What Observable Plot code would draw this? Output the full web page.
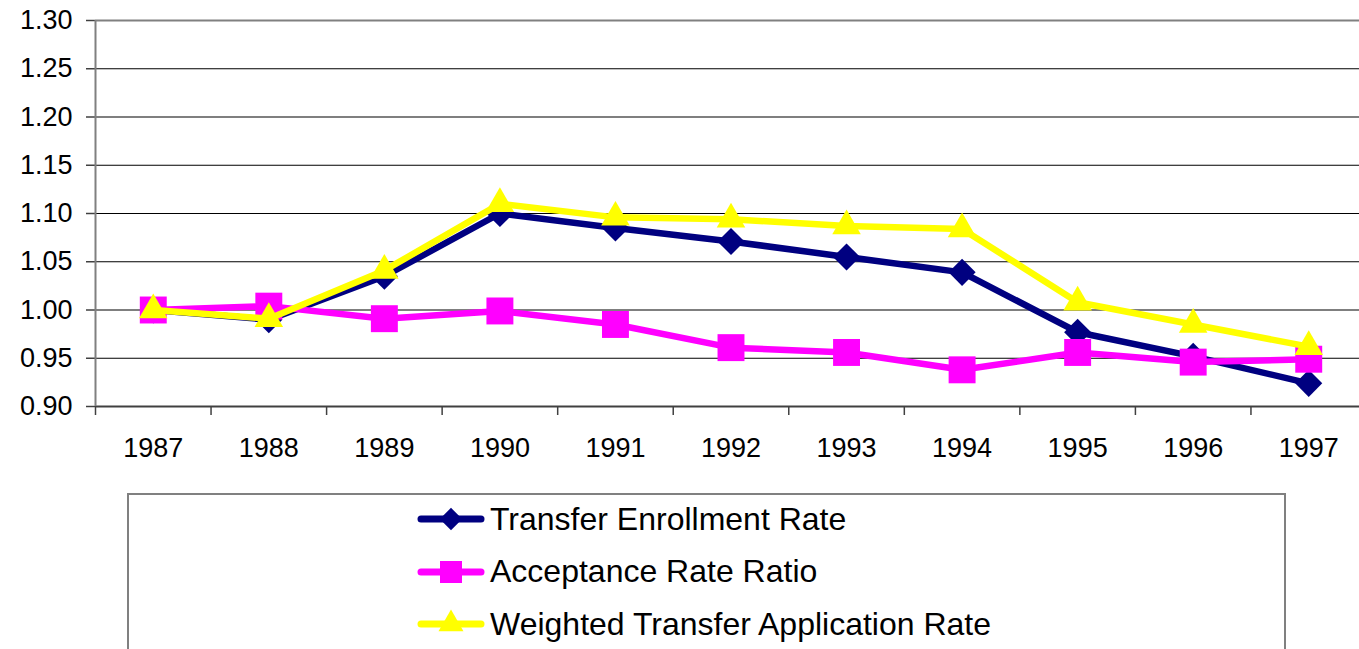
<!DOCTYPE html>
<html>
<head>
<meta charset="utf-8">
<script src="https://cdn.jsdelivr.net/npm/d3@7"></script>
<script src="https://cdn.jsdelivr.net/npm/@observablehq/plot@0.6"></script>
<style>
  html, body { margin: 0; padding: 0; background: #fff; overflow: hidden; }
  body { width: 1359px; height: 649px; position: relative; font-family: "Liberation Sans", Arial, sans-serif; }
  #legend { position: absolute; left: 127px; top: 493px; width: 1159px; height: 200px; box-sizing: border-box; border: 2px solid #808080; }
  #entries { position: absolute; left: 417px; top: 493px; }
  .row { display: flex; align-items: center; height: 52.5px; }
  .row span { font-size: 32px; margin-left: 3px; color: #000; }
</style>
</head>
<body>
<div id="chart"></div>
<div id="legend"></div>
<div id="entries"></div>
<script>
const years = ["1987","1988","1989","1990","1991","1992","1993","1994","1995","1996","1997"];
const transfer   = [1.000, 0.990, 1.035, 1.100, 1.085, 1.071, 1.055, 1.039, 0.977, 0.952, 0.924];
const acceptance = [1.000, 1.004, 0.991, 0.999, 0.985, 0.961, 0.956, 0.938, 0.956, 0.946, 0.949];
const weighted   = [1.000, 0.991, 1.041, 1.110, 1.096, 1.094, 1.087, 1.084, 1.008, 0.985, 0.962];
const yTicks = [0.90, 0.95, 1.00, 1.05, 1.10, 1.15, 1.20, 1.25, 1.30];
const seriesNames = ["Transfer Enrollment Rate", "Acceptance Rate Ratio", "Weighted Transfer Application Rate"];
const seriesColors = ["#000080", "#FF00FF", "#FFFF00"];
const seriesSymbols = ["diamond2", "square", "triangle"];
const seriesR = [12.2, 15.2, 10.6];
const seriesValues = [transfer, acceptance, weighted];

const xPos = (d, i) => i + 0.5;

const seriesMarks = seriesValues.flatMap((vals, k) => [
  Plot.lineY(vals, {x: xPos, y: d => d, stroke: seriesColors[k], strokeWidth: 6.5, strokeLinejoin: "round"}),
  Plot.dot(vals, {x: xPos, y: d => d, symbol: seriesSymbols[k], r: seriesR[k], fill: seriesColors[k], stroke: "none"})
]);

const chart = Plot.plot({
  width: 1359,
  height: 470,
  marginLeft: 95,
  marginRight: 0,
  marginTop: 20,
  marginBottom: 64,
  style: {fontFamily: "'Liberation Sans', Arial, sans-serif", fontSize: "27px", color: "#000", background: "#fff", overflow: "visible"},
  x: {domain: [0, years.length], range: [95, 1366]},
  y: {domain: [yTicks[0], yTicks[yTicks.length - 1]]},
  marks: [
    Plot.ruleY(yTicks.slice(1, -1), {stroke: "#000", strokeWidth: 1.2}),
    Plot.ruleY([yTicks[yTicks.length - 1]], {stroke: "#808080", strokeWidth: 2}),
    Plot.axisY(yTicks, {tickSize: 9, tickPadding: 14, tickFormat: d => d.toFixed(2), fontSize: 27, stroke: "#404040", strokeWidth: 1.5}),
    Plot.axisX(d3.range(0, years.length + 1), {tickSize: 9, tickFormat: () => "", stroke: "#404040", strokeWidth: 1.5}),
    Plot.axisX(years.map((_, i) => i + 0.5), {tickSize: 0, tickPadding: 31, tickFormat: d => years[Math.floor(d)], fontSize: 27}),
    ...seriesMarks,
    Plot.ruleY([yTicks[0]], {stroke: "#404040", strokeWidth: 2}),
    Plot.ruleX([0], {stroke: "#808080", strokeWidth: 2})
  ]
});
document.getElementById("chart").appendChild(chart);

// Legend
const entries = document.getElementById("entries");
seriesNames.forEach((name, k) => {
  const row = document.createElement("div");
  row.className = "row";
  const sw = d3.create("svg").attr("width", 70).attr("height", 30);
  sw.append("line").attr("x1", 4).attr("x2", 64).attr("y1", 15).attr("y2", 15)
    .attr("stroke", seriesColors[k]).attr("stroke-width", 7).attr("stroke-linecap", "round");
  const symMap = {diamond2: d3.symbolDiamond2, square: d3.symbolSquare, triangle: d3.symbolTriangle};
  const sizes = {diamond2: 320, square: 484, triangle: 270};
  const s = seriesSymbols[k];
  sw.append("path").attr("transform", "translate(34,15)")
    .attr("d", d3.symbol(symMap[s], sizes[s])()).attr("fill", seriesColors[k]);
  row.appendChild(sw.node());
  const t = document.createElement("span");
  t.textContent = name;
  row.appendChild(t);
  entries.appendChild(row);
});
</script>
</body>
</html>
